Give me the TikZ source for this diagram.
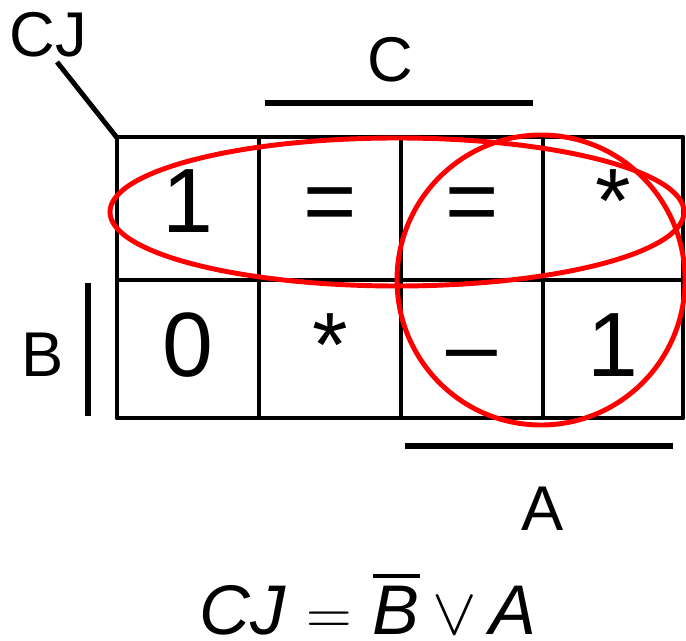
\RequirePackage{fix-cm}
\documentclass[tikz,border=0pt]{standalone}
\usepackage{fontspec}
\setmainfont{Liberation Sans}
\usetikzlibrary{positioning}

% bar over a letter
\newcommand\barletter[1]{\vbox{\hrule height 2.2pt\kern 4.5pt\hbox{#1}}}

\begin{document}
\begin{tikzpicture}[x=0.02cm, y=-0.02cm,
  cell/.style={anchor=base, inner sep=0pt, font=\fontsize{52}{60}\selectfont},
  lbl/.style={anchor=base, inner sep=0pt, font=\fontsize{36}{42}\selectfont},
  gridline/.style={line width=2.3pt, line cap=round},
  barline/.style={line width=3.2pt},
  loop/.style={draw=red, line width=2.8pt}]

\useasboundingbox (0,0) rectangle (686,641);

%--------------------
% Karnaugh grid
%--------------------
\foreach \x in {117,259,401,543,683}
  \draw[gridline] (\x,137) -- (\x,418);
\foreach \y in {137,280,418}
  \draw[gridline] (117,\y) -- (683,\y);

% cell entries (row 1 baseline 233, row 2 baseline 377)
\foreach \name/\x/\y/\val in {a/188/233/1, b/330/233/=, c/472/233/=, d/613/233/*,
                              e/188/377/0, f/330/377/*, g/472/377/–, h/613/377/1}
  \node[cell] (cell\name) at (\x,\y) {\val};

%--------------------
% Variable labels and bars
%--------------------
\node[lbl] (labC) at (390,82) {C};
\draw[barline] (265,103) -- (533,103);

\node[lbl] (labB) at (43,377) {B};
\draw[barline] (88,283) -- (88,416);

\node[lbl] (labA) at (543,530) {A};
\draw[barline] (405,446) -- (673,446);

\node[lbl] (labCJ) at (48,57) {CJ};
\coordinate (cjtip) at (57,62);
\coordinate (corner) at (118,139);
\draw[line width=2.8pt] (cjtip) -- (corner);

%--------------------
% Groupings
%--------------------
\draw[loop] (397,212) ellipse [x radius=287, y radius=74];
\draw[loop] (541,280) ellipse [x radius=144, y radius=145];

%--------------------
% Result
%--------------------
\node[anchor=base west, inner sep=0pt, font=\fontsize{40}{46}\selectfont\itshape] (result)
  at (199,634) {CJ\hspace{0.3em}{\fontsize{36}{40}\selectfont$=$}\hspace{0.3em}\barletter{B}\hspace{0.18em}{\fontsize{38}{40}\selectfont$\vee$}\hspace{0.18em}A};

\end{tikzpicture}
\end{document}
